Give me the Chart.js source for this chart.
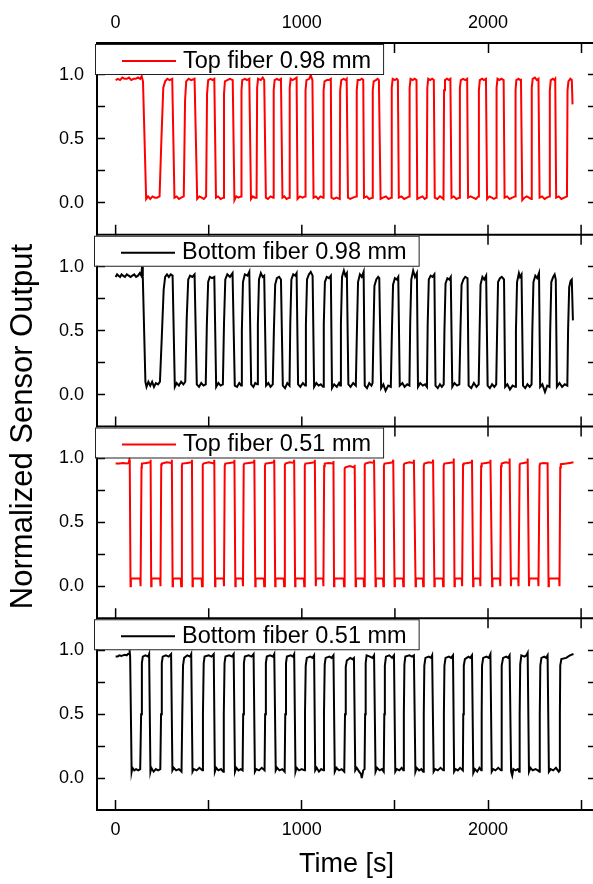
<!DOCTYPE html>
<html><head><meta charset="utf-8">
<script src="https://cdn.jsdelivr.net/npm/chart.js@4/dist/chart.umd.min.js"></script>
<style>
html,body{margin:0;padding:0;background:#fff;overflow:hidden;width:593px;height:884px}
#wrap{position:absolute;left:0;top:0;width:600px;height:884px}
</style></head>
<body><div id="wrap"><canvas id="c" width="600" height="884"></canvas></div>
<script>
const seriesLabels = ['Top fiber 0.98 mm', 'Bottom fiber 0.98 mm', 'Top fiber 0.51 mm', 'Bottom fiber 0.51 mm'];
const seriesColors = ['#ff0000', '#000000', '#ff0000', '#000000'];
const xTickValues = [0, 500, 1000, 1500, 2000, 2500];
const xTickLabels = ['0', '1000', '2000'];
const yTickValues = [0, 0.25, 0.5, 0.75, 1.0];
const yTickLabels = ['0.0', '0.5', '1.0'];
const xTitle = 'Time [s]';
const yTitle = 'Normalized Sensor Output';

// [time (s), normalized output]
const topFiber098 = [
[0,.96],[12,.97],[24,.96],[36,.98],[48,.97],[60,.97],[72,.98],[84,.96],[96,.97],[108,.97],[120,.98],[132,.97],[140,.99],[147,.95],
[164,.03],[174,.05],[186,.03],[198,.05],[210,.04],[222,.04],[236,.05],
[246,.50],[256,.90],[266,.95],[278,.97],[290,.96],[304,.97],
[316,.04],[328,.05],[340,.03],[352,.04],[366,.05],
[373,.80],[379,.95],[392,.97],[406,.96],[424,.97],
[438,.03],[450,.05],[462,.04],[474,.03],[486,.05],
[491,.85],[497,.96],[510,.97],[520,.96],[530,.97],
[539,.04],[550,.05],[564,.03],[579,.04],
[582,.85],[587,.95],[600,.96],[614,.97],[629,.96],
[638,.02],[648,.05],[660,.04],[674,.05],
[676,.88],[680,.96],[695,.97],[706,.96],[718,.97],
[727,.03],[737,.05],[747,.04],[757,.04],
[760,.90],[765,.97],[780,.96],[790,.98],[798,.96],
[807,.04],[818,.03],[832,.05],[846,.04],
[849,.88],[854,.96],[866,.97],[878,.96],[888,.97],
[896,.04],[906,.05],[918,.03],[932,.04],
[935,.90],[940,.97],[950,.96],[962,.97],[972,.98],
[977,.03],[990,.05],[1004,.04],[1018,.05],
[1020,.88],[1025,.96],[1040,.97],[1048,1.0],[1057,.96],
[1063,.04],[1075,.05],[1088,.03],[1100,.05],[1114,.04],
[1117,.88],[1122,.95],[1135,.96],[1146,.96],[1156,.97],
[1159,.04],[1172,.03],[1186,.04],[1204,.03],
[1206,.88],[1212,.96],[1225,.97],[1235,.96],[1241,.97],
[1248,.04],[1260,.03],[1275,.04],[1293,.05],
[1295,.88],[1300,.96],[1312,.96],[1322,.97],[1330,.96],
[1334,.04],[1348,.05],[1362,.03],[1379,.04],
[1381,.88],[1386,.95],[1398,.96],[1407,.97],[1414,.96],
[1423,.03],[1436,.04],[1452,.05],[1466,.03],[1480,.04],
[1483,.90],[1488,.97],[1500,.96],[1510,.97],[1516,.96],
[1521,.04],[1535,.05],[1550,.03],[1565,.04],[1577,.05],
[1579,.90],[1584,.97],[1596,.96],[1606,.97],[1616,.96],
[1620,.03],[1634,.04],[1648,.05],[1660,.03],[1671,.04],
[1674,.90],[1679,.97],[1690,.96],[1700,.97],[1709,.96],
[1714,.04],[1728,.03],[1742,.05],[1752,.04],[1761,.03],
[1764,.88],[1769,.96],[1780,.97],[1790,.96],[1798,.97],
[1804,.04],[1816,.05],[1830,.03],[1846,.04],
[1849,.90],[1854,.96],[1866,.97],[1878,.96],[1888,.97],
[1893,.04],[1906,.05],[1920,.04],[1935,.03],[1948,.05],
[1951,.88],[1956,.96],[1968,.97],[1978,.96],[1989,.97],
[1995,.03],[2008,.05],[2020,.04],[2032,.03],[2043,.04],
[2046,.90],[2051,.97],[2062,.96],[2072,.97],[2084,.96],
[2089,.04],[2102,.05],[2116,.03],[2130,.04],[2145,.05],
[2148,.88],[2152,.96],[2164,.97],[2172,.96],[2177,.97],
[2184,.02],[2196,.04],[2208,.05],[2220,.04],[2232,.03],
[2235,.90],[2240,.97],[2252,.98],[2262,.96],[2271,.97],
[2277,.04],[2290,.05],[2304,.03],[2316,.04],[2329,.05],
[2332,.88],[2337,.96],[2348,.97],[2356,.96],[2361,.97],
[2366,.04],[2380,.05],[2394,.03],[2410,.04],[2424,.05],
[2427,.88],[2432,.95],[2442,.97],[2450,.96],[2454,.77]
];

const bottomFiber098 = [
[0,.92],[8,.94],[16,.93],[24,.92],[32,.94],[40,.93],[50,.92],[60,.94],[70,.93],[80,.92],[90,.93],[100,.94],[110,.92],[120,.93],[130,.95],[138,.93],[142,1.0],[146,.92],
[160,.10],[166,.06],[176,.10],[186,.07],[196,.10],[206,.06],[216,.09],[228,.08],[238,.10],
[248,.45],[258,.82],[266,.92],[276,.94],[286,.92],[296,.94],[306,.93],
[318,.06],[328,.09],[340,.07],[352,.10],[364,.08],[374,.10],
[382,.60],[390,.90],[400,.93],[412,.92],[424,.94],
[436,.08],[448,.06],[460,.09],[472,.07],[484,.08],
[490,.55],[497,.88],[506,.92],[518,.91],[530,.92],
[540,.06],[552,.09],[564,.07],[576,.08],
[582,.55],[589,.90],[600,.94],[614,.92],[628,.95],
[640,.07],[652,.06],[664,.09],[674,.07],
[678,.50],[684,.88],[694,.94],[708,.93],[718,.96],
[728,.08],[740,.06],[750,.09],[760,.08],
[764,.55],[770,.90],[780,.95],[790,.92],[798,.93],
[808,.07],[820,.09],[832,.06],[844,.08],
[850,.50],[857,.86],[866,.91],[878,.92],[888,.90],
[898,.07],[910,.05],[922,.09],[934,.07],
[938,.55],[944,.90],[954,.94],[964,.93],[972,.95],
[980,.08],[992,.06],[1006,.09],[1018,.07],
[1022,.55],[1028,.90],[1038,.94],[1048,.96],[1058,.93],
[1066,.06],[1078,.09],[1090,.07],[1102,.08],[1114,.06],
[1118,.55],[1124,.88],[1134,.92],[1146,.91],[1156,.93],
[1162,.05],[1174,.08],[1188,.06],[1200,.09],[1206,.07],
[1210,.55],[1216,.92],[1226,.97],[1234,.93],[1242,.95],
[1250,.08],[1262,.06],[1276,.09],[1290,.07],
[1296,.50],[1302,.88],[1312,.94],[1322,.92],[1332,.96],
[1338,.07],[1350,.05],[1362,.09],[1374,.07],[1380,.09],
[1385,.50],[1390,.85],[1400,.90],[1410,.92],[1416,.91],
[1426,.05],[1438,.08],[1450,.03],[1464,.07],[1478,.06],
[1484,.50],[1490,.86],[1500,.91],[1510,.90],[1518,.92],
[1526,.07],[1540,.09],[1552,.06],[1566,.08],[1578,.07],
[1582,.55],[1588,.90],[1598,.97],[1608,.92],[1618,.95],
[1624,.06],[1636,.09],[1650,.07],[1662,.08],[1672,.06],
[1676,.55],[1682,.90],[1692,.93],[1702,.92],[1712,.94],
[1718,.07],[1730,.05],[1742,.08],[1752,.06],[1762,.08],
[1766,.50],[1772,.87],[1782,.91],[1792,.90],[1800,.92],
[1808,.06],[1820,.09],[1834,.07],[1846,.08],
[1852,.50],[1858,.86],[1868,.90],[1878,.92],[1890,.91],
[1896,.07],[1910,.05],[1924,.09],[1938,.06],[1950,.08],
[1955,.50],[1960,.86],[1970,.92],[1980,.90],[1990,.93],
[1998,.07],[2010,.05],[2022,.08],[2034,.06],[2044,.08],
[2049,.50],[2054,.88],[2064,.91],[2074,.92],[2086,.90],
[2092,.06],[2104,.08],[2118,.04],[2132,.07],[2146,.06],
[2150,.50],[2156,.88],[2166,.95],[2172,.92],[2180,.94],
[2188,.07],[2200,.05],[2212,.08],[2224,.06],[2234,.08],
[2238,.50],[2244,.88],[2254,.93],[2264,.91],[2274,.95],
[2280,.06],[2292,.08],[2306,.02],[2318,.07],[2330,.06],
[2334,.50],[2340,.88],[2350,.92],[2358,.94],[2364,.90],
[2370,.06],[2384,.09],[2398,.06],[2412,.08],[2426,.07],
[2430,.50],[2436,.84],[2444,.89],[2450,.90],[2456,.58]
];

const topFiber051 = [
[0,.96],[20,.96],[40,.965],[60,.96],[70,.965],[74,.99],[76,.95],
[80,.0],[82,.06],[110,.06],[132,.06],[134,.0],
[139,.93],[141,.96],[165,.965],[186,.97],[188,.99],
[191,.0],[193,.06],[215,.06],[239,.06],[241,.0],
[245,.95],[248,.96],[275,.97],[300,.965],[302,.99],
[306,.0],[308,.06],[330,.06],[350,.06],[352,.0],
[356,.94],[358,.96],[385,.965],[408,.97],[410,.99],
[413,.0],[415,.06],[440,.06],[462,.06],[464,.0],
[468,.95],[471,.96],[500,.97],[528,.96],[530,.99],
[534,.0],[536,.06],[558,.06],[580,.06],[582,.0],
[586,.94],[589,.96],[612,.965],[636,.97],[638,.99],
[643,.0],[645,.06],[665,.06],[682,.06],[684,.0],
[688,.95],[691,.96],[715,.965],[743,.97],[745,.99],
[750,.0],[752,.06],[775,.06],[796,.06],[798,.0],
[802,.94],[805,.96],[828,.965],[850,.97],[852,.99],
[857,.0],[859,.06],[880,.06],[903,.06],[905,.0],
[909,.95],[912,.96],[935,.97],[957,.965],[959,.99],
[964,.0],[966,.06],[990,.06],[1011,.06],[1013,.0],
[1016,.94],[1019,.96],[1045,.965],[1068,.97],[1070,.99],
[1075,.0],[1077,.06],[1097,.06],[1114,.06],[1116,.0],
[1120,.94],[1123,.96],[1145,.965],[1168,.96],[1170,.98],
[1173,.0],[1175,.06],[1200,.06],[1225,.06],[1227,.0],
[1230,.92],[1234,.93],[1258,.94],[1282,.93],[1284,.95],
[1289,.0],[1291,.06],[1312,.06],[1332,.06],[1334,.0],
[1338,.95],[1341,.96],[1365,.97],[1386,.965],[1388,.99],
[1396,.0],[1398,.06],[1418,.06],[1436,.06],[1438,.0],
[1441,.94],[1444,.96],[1468,.965],[1489,.97],[1491,.99],
[1498,.0],[1500,.06],[1522,.06],[1543,.06],[1545,.0],
[1548,.95],[1551,.96],[1578,.97],[1600,.965],[1602,.99],
[1611,.0],[1613,.06],[1632,.06],[1650,.06],[1652,.0],
[1655,.94],[1658,.96],[1682,.97],[1703,.965],[1705,.99],
[1712,.0],[1714,.06],[1737,.06],[1757,.06],[1759,.0],
[1762,.94],[1765,.96],[1790,.965],[1814,.97],[1816,1.0],
[1820,.0],[1822,.06],[1842,.06],[1859,.06],[1861,.0],
[1866,.95],[1869,.96],[1892,.965],[1912,.97],[1914,.99],
[1920,.0],[1922,.06],[1940,.06],[1957,.06],[1959,.0],
[1963,.94],[1966,.96],[1990,.965],[2011,.97],[2013,.99],
[2022,.0],[2024,.06],[2045,.06],[2064,.06],[2066,.0],
[2070,.94],[2073,.96],[2095,.97],[2114,.965],[2116,1.0],
[2123,.0],[2125,.06],[2145,.06],[2162,.06],[2164,.0],
[2170,.95],[2173,.96],[2193,.965],[2211,.97],[2213,1.0],
[2220,.0],[2222,.06],[2247,.06],[2269,.06],[2271,.0],
[2277,.94],[2280,.96],[2300,.965],[2318,.96],[2320,.97],
[2325,.0],[2327,.06],[2356,.06],[2382,.06],[2384,.0],
[2388,.93],[2391,.955],[2420,.96],[2440,.965],[2459,.97]
];

const bottomFiber051 = [
[0,.95],[10,.95],[20,.96],[30,.955],[40,.96],[50,.965],[60,.96],[66,.97],[72,.97],[75,1.0],[78,.95],
[86,.05],[90,.08],[100,.06],[110,.07],[122,.06],[132,.07],
[137,.50],[141,.90],[146,.95],[160,.96],[175,.95],[180,.97],
[187,.05],[192,.08],[204,.05],[216,.07],[228,.06],[240,.07],
[244,.50],[248,.90],[253,.95],[270,.96],[285,.95],[298,.97],
[305,.06],[312,.08],[325,.06],[340,.07],[354,.05],
[358,.50],[362,.88],[368,.94],[385,.96],[400,.95],[406,.97],
[413,.05],[420,.07],[435,.06],[450,.08],[466,.06],
[469,.50],[473,.90],[478,.95],[500,.96],[515,.95],[527,.97],
[533,.05],[540,.08],[552,.06],[566,.07],[578,.05],
[581,.50],[585,.90],[590,.95],[610,.96],[625,.95],[634,.97],
[641,.05],[648,.08],[660,.06],[672,.07],[682,.06],
[685,.50],[689,.90],[694,.95],[715,.96],[730,.95],[741,.97],
[748,.05],[755,.07],[770,.06],[785,.08],[800,.06],
[803,.50],[807,.90],[812,.95],[830,.96],[845,.95],[852,.97],
[860,.06],[867,.08],[880,.06],[895,.07],[908,.05],
[911,.50],[915,.90],[920,.95],[940,.96],[952,.95],[959,.97],
[966,.05],[972,.08],[985,.06],[1000,.07],[1014,.06],
[1017,.50],[1021,.88],[1027,.94],[1045,.95],[1058,.94],[1066,.96],
[1072,.06],[1080,.08],[1092,.05],[1104,.07],[1116,.06],
[1119,.50],[1123,.89],[1128,.94],[1148,.95],[1160,.94],[1170,.96],
[1177,.05],[1186,.08],[1200,.06],[1214,.07],[1228,.05],
[1232,.50],[1236,.87],[1242,.92],[1260,.94],[1272,.93],[1280,.94],
[1287,.06],[1295,.08],[1308,.05],[1318,.03],[1322,.0],[1330,.06],[1337,.07],
[1340,.50],[1343,.90],[1348,.96],[1366,.95],[1380,.94],[1388,.96],
[1396,.05],[1404,.08],[1418,.06],[1430,.07],[1440,.05],
[1443,.50],[1446,.88],[1452,.95],[1470,.96],[1485,.94],[1495,.96],
[1502,.05],[1510,.07],[1524,.06],[1536,.08],[1545,.06],
[1548,.50],[1551,.89],[1556,.95],[1578,.96],[1592,.95],[1602,.96],
[1610,.05],[1617,.08],[1630,.06],[1642,.07],[1652,.05],
[1655,.50],[1658,.88],[1664,.94],[1682,.95],[1694,.94],[1700,.96],
[1708,.05],[1716,.07],[1730,.06],[1745,.08],[1760,.06],
[1763,.50],[1766,.88],[1772,.94],[1790,.95],[1802,.94],[1812,.96],
[1818,.05],[1826,.07],[1838,.06],[1850,.08],[1865,.06],
[1867,.50],[1870,.88],[1876,.93],[1895,.95],[1905,.94],[1914,.96],
[1921,.04],[1930,.07],[1942,.05],[1954,.08],[1964,.06],
[1966,.50],[1968,.88],[1974,.94],[1992,.95],[2004,.94],[2013,.97],
[2020,.05],[2028,.07],[2040,.06],[2055,.08],[2070,.06],
[2072,.50],[2075,.88],[2081,.94],[2098,.95],[2108,.94],[2116,.96],
[2124,.05],[2130,.02],[2136,.07],[2148,.06],[2160,.07],[2168,.05],
[2170,.50],[2173,.89],[2179,.96],[2196,.95],[2206,.96],[2213,.98],
[2220,.05],[2228,.08],[2240,.06],[2255,.07],[2268,.06],[2276,.05],
[2278,.50],[2281,.88],[2287,.94],[2302,.95],[2312,.94],[2320,.96],
[2327,.05],[2336,.07],[2350,.06],[2365,.08],[2380,.05],[2384,.06],
[2386,.50],[2388,.88],[2394,.93],[2420,.94],[2440,.96],[2459,.97]
];

const seriesData = [topFiber098, bottomFiber098, topFiber051, bottomFiber051];

const FONT = "'Liberation Sans', Arial, Helvetica, sans-serif";
Chart.defaults.font.family = FONT;
Chart.defaults.color = '#000';

function xLabel(v) { const s = String(Math.round(v)); return xTickLabels.includes(s) ? s : ''; }
function yLabel(v) {
  const k = Math.round(v * 2);
  if (Math.abs(v * 2 - k) < 1e-6 && k >= 0 && k < yTickLabels.length) return yTickLabels[k];
  return '';
}

function xAxis(pos, h, withTitle) {
  return {
    type: 'linear', position: pos, min: -100, max: 2580, bounds: 'data',
    afterBuildTicks: s => { s.ticks = xTickValues.map(v => ({ value: v })); },
    ticks: { autoSkip: false, maxRotation: 0, minRotation: 0,
      callback: xLabel, font: { size: 18 }, color: '#000', padding: 19, display: true },
    grid: { drawOnChartArea: false, drawTicks: true, tickLength: -10, tickColor: '#000', tickWidth: 1.5 },
    border: { display: true, color: '#000', width: 2 },
    title: withTitle ? { display: true, text: xTitle, font: { size: 27 }, color: '#000', padding: { top: 0, bottom: 3 } } : { display: false },
    afterFit: s => { s.height = h; s.paddingLeft = 0; s.paddingRight = 0; }
  };
}
function yAxis(pos, labels) {
  return {
    type: 'linear', position: pos, stack: pos, stackWeight: 1, min: -0.25, max: 1.25, bounds: 'data',
    afterBuildTicks: s => { s.ticks = yTickValues.map(v => ({ value: v })); },
    ticks: { autoSkip: false, display: labels, callback: yLabel,
      font: { size: 18 }, color: '#000', padding: 21 },
    grid: { drawOnChartArea: false, drawTicks: true, tickLength: -8, tickColor: '#000', tickWidth: 1.5 },
    border: { display: labels, color: '#000', width: 2 },
    afterFit: s => { s.width = labels ? 54.8 : 4; s.paddingTop = 0; s.paddingBottom = 0; }
  };
}

const scales = { x: xAxis('bottom', 74, true), x2: xAxis('top', 43, false) };
// left stack: the axis declared last is placed on top
for (let i = 4; i >= 1; i--) scales['yL' + i] = yAxis('left', true);
for (let i = 1; i <= 4; i++) scales['yR' + i] = yAxis('right', false);

const legendBoxLeft = [95, 94, 95, 94];
const framePlugin = {
  id: 'frame',
  afterDatasetsDraw(chart) {
    const ctx = chart.ctx, ca = chart.chartArea, xs = chart.scales.x;
    ctx.save();
    ctx.strokeStyle = '#000';
    for (let i = 1; i < 4; i++) {
      const y = chart.scales['yL' + i].bottom;
      ctx.lineWidth = 2;
      ctx.beginPath(); ctx.moveTo(ca.left, y); ctx.lineTo(ca.right, y); ctx.stroke();
      ctx.lineWidth = 1.5;
      xs.ticks.forEach(t => {
        const px = xs.getPixelForValue(t.value);
        ctx.beginPath(); ctx.moveTo(px, y - 10); ctx.lineTo(px, y + 10); ctx.stroke();
      });
    }
    chart.data.datasets.forEach((ds, i) => {
      const s = chart.scales[ds.yAxisID];
      const left = legendBoxLeft[i], top = s.top + 1;
      ctx.font = '23.5px ' + FONT;
      const tw = ctx.measureText(ds.label).width;
      const w = 88 + tw + 12, h = 30;
      ctx.fillStyle = '#fff'; ctx.fillRect(left, top, w, h);
      ctx.lineWidth = 1; ctx.strokeStyle = '#222';
      ctx.strokeRect(left + 0.5, top + 0.5, w, h);
      ctx.strokeStyle = ds.borderColor; ctx.lineWidth = 2;
      ctx.beginPath(); ctx.moveTo(left + 27, top + 17); ctx.lineTo(left + 81, top + 17); ctx.stroke();
      ctx.fillStyle = '#000'; ctx.textBaseline = 'alphabetic'; ctx.textAlign = 'left';
      ctx.fillText(ds.label, left + 88, top + 23.5);
    });
    ctx.restore();
  }
};

new Chart(document.getElementById('c'), {
  type: 'line',
  data: {
    datasets: seriesData.map((d, i) => ({
      label: seriesLabels[i],
      data: d.map(p => ({ x: p[0], y: p[1] })),
      borderColor: seriesColors[i], backgroundColor: seriesColors[i],
      borderWidth: 2, pointRadius: 0, tension: 0, fill: false,
      xAxisID: 'x', yAxisID: 'yL' + (i + 1)
    }))
  },
  options: {
    responsive: false, animation: false, devicePixelRatio: 1,
    layout: { padding: 0 },
    plugins: {
      legend: { display: false },
      tooltip: { enabled: false },
      title: { display: true, position: 'left', text: yTitle, fullSize: false,
        font: { size: 31, weight: 'normal', lineHeight: 1.2 }, color: '#000', padding: { top: 5, bottom: 0 } }
    },
    scales
  },
  plugins: [framePlugin]
});
</script>
</body></html>
